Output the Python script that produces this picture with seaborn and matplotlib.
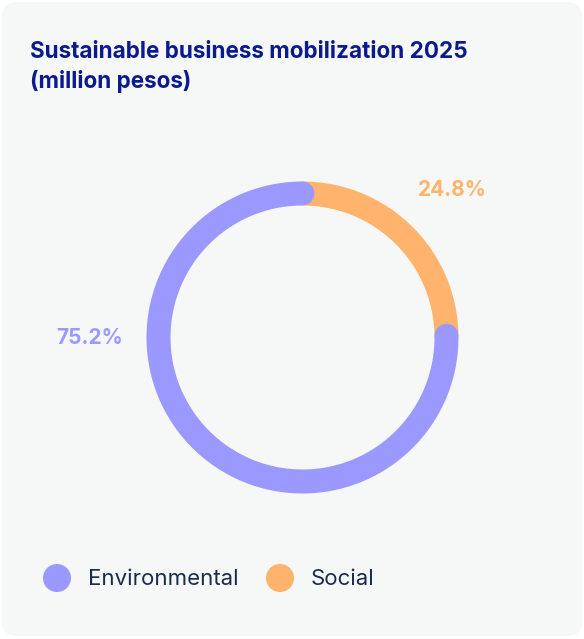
import numpy as np
import matplotlib
matplotlib.use("Agg")
import matplotlib.pyplot as plt
from matplotlib.patches import FancyBboxPatch
import seaborn as sns

sns.set_theme(style="white")
plt.rcParams["font.family"] = ["Inter", "DejaVu Sans"]

# Data
categories = ["Environmental", "Social"]
shares = [75.2, 24.8]
colors = ["#9b98ff", "#ffb36c"]
title = "Sustainable business mobilization 2025\n(million pesos)"

W, H = 584, 639
fig = plt.figure(figsize=(W / 100, H / 100), dpi=100)
fig.patch.set_facecolor("white")

# card background
bg = fig.add_axes([0, 0, 1, 1])
bg.set_xlim(0, W)
bg.set_ylim(H, 0)
bg.axis("off")
bg.add_patch(FancyBboxPatch((2 + 15, 2 + 15), 580 - 30, 634 - 30,
                            boxstyle="round,pad=15", fc="#f6f7f7", ec="none"))

fig.text(30 / W, 1 - 67 / H, title, ha="left", va="center", fontsize=16.2,
         fontweight="bold", color="#0b1b8f", linespacing=1.4)

# donut axes, square, centered on ring centre
cx, cy, R = 302.5, 337.5, 180
ax = fig.add_axes([(cx - R) / W, 1 - (cy + R) / H, 2 * R / W, 2 * R / H])
ax.set_xlim(-R, R)
ax.set_ylim(-R, R)
ax.set_aspect("equal")
ax.axis("off")
ax.patch.set_alpha(0)

r_mid = 144
lw_pt = 24 * 72 / 100

# Social arc: clockwise from 12 o'clock
soc = shares[1]
env = shares[0]
total = soc + env
a0 = 90.0
a1 = 90.0 - 360.0 * soc / total
t = np.radians(np.linspace(a0, a1, 200))
sns.lineplot(x=r_mid * np.cos(t), y=r_mid * np.sin(t), ax=ax, color=colors[1],
             linewidth=lw_pt, sort=False, estimator=None)
# Environmental arc: from end of Social, clockwise back to 12 o'clock
t = np.radians(np.linspace(a1, a1 - 360.0 * env / total, 600))
sns.lineplot(x=r_mid * np.cos(t), y=r_mid * np.sin(t), ax=ax, color=colors[0],
             linewidth=lw_pt, sort=False, estimator=None)
for line in ax.lines:
    line.set_solid_capstyle("round")

# percentage labels
fig.text(452 / W, 1 - 190 / H, f"{soc:.1f}%", ha="center", va="center",
         fontsize=15, fontweight="bold", color=colors[1])
fig.text(90 / W, 1 - 338 / H, f"{env:.1f}%", ha="center", va="center",
         fontsize=15, fontweight="bold", color=colors[0])

# legend
legend_x = [57, 280]
for x, c, lab in zip(legend_x, colors, categories):
    bg.add_patch(plt.Circle((x, 578), 14, color=c, ec="none"))
    bg.text(x + 31, 579, lab, ha="left", va="center", fontsize=16,
            color="#1a2b4f")

fig.savefig("out.png", dpi=100, facecolor=fig.get_facecolor())
